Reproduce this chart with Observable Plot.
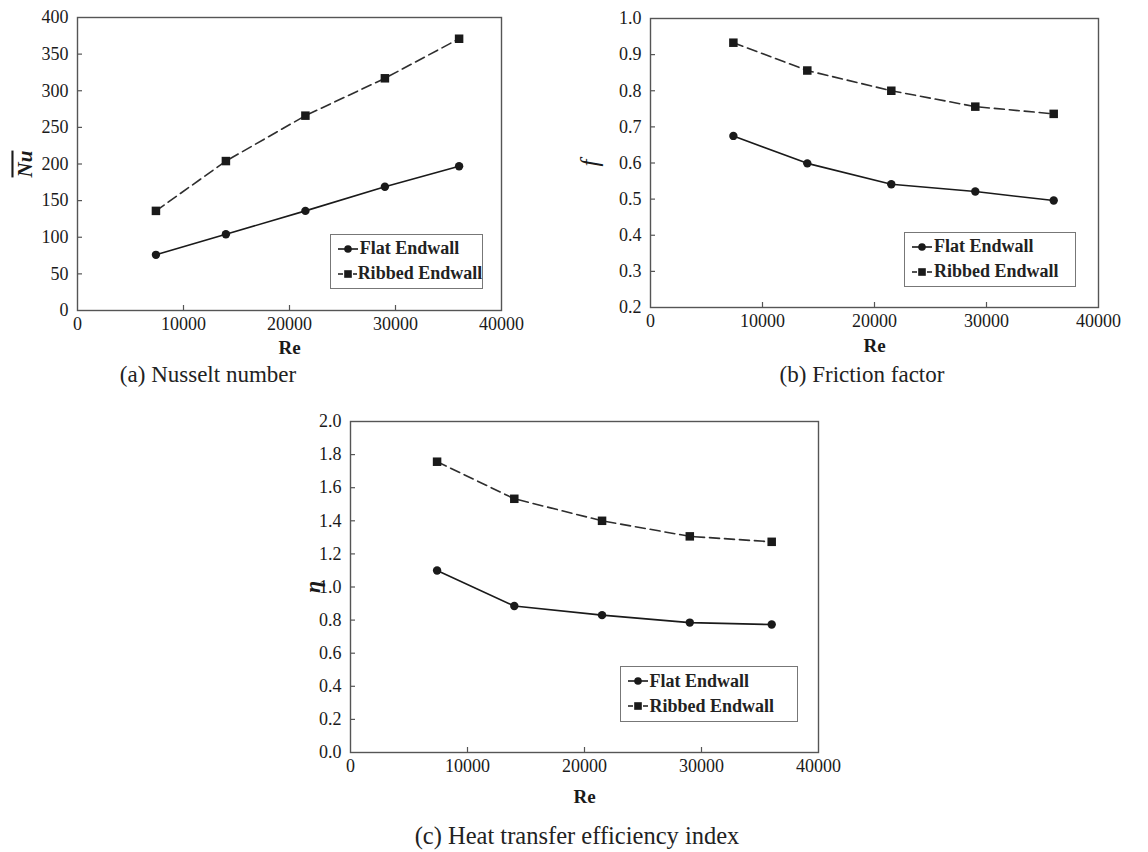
<!DOCTYPE html>
<html>
<head>
<meta charset="utf-8">
<script src="https://cdn.jsdelivr.net/npm/d3@7"></script>
<script src="https://cdn.jsdelivr.net/npm/@observablehq/plot@0.6"></script>
<style>
  body { margin: 0; background: #fff; }
  #fig { position: relative; width: 1148px; height: 852px; font-family: "Liberation Serif", "Times New Roman", serif; color: #222; }
  .panel { position: absolute; }
  .panel text { font-family: "Liberation Serif", "Times New Roman", serif; }
  .caption { position: absolute; font-size: 23.5px; line-height: 1; white-space: nowrap; transform: translate(-50%, -50%); }
  .legend { position: absolute; box-sizing: border-box; border: 1px solid #777; background: #fff;
            font-weight: bold; font-size: 18px; display: flex; flex-direction: column; justify-content: center; padding-left: 6px; }
  .legend .row { display: flex; align-items: center; height: 25px; white-space: nowrap; }
  .legend svg { margin-right: 1px; }
</style>
</head>
<body>
<div id="fig"></div>
<script>
// Reynolds numbers of the five test cases
const re = [7400, 14000, 21500, 29000, 36000];

// (a) area-averaged Nusselt number
const nuFlat = [76, 104, 136, 169, 197];
const nuRibbed = [136, 204, 266, 317, 371];

// (b) friction factor
const fFlat = [0.675, 0.599, 0.541, 0.521, 0.496];
const fRibbed = [0.933, 0.856, 0.800, 0.756, 0.736];

// (c) heat transfer efficiency index
const etaFlat = [1.10, 0.885, 0.830, 0.785, 0.773];
const etaRibbed = [1.757, 1.533, 1.400, 1.306, 1.273];

const seriesNames = ["Flat Endwall", "Ribbed Endwall"];

// axis ticks
const reTicks = [0, 10000, 20000, 30000, 40000];
const nuTicks = [0, 50, 100, 150, 200, 250, 300, 350, 400];
const fTicks = [0.2, 0.3, 0.4, 0.5, 0.6, 0.7, 0.8, 0.9, 1.0];
const etaTicks = [0.0, 0.2, 0.4, 0.6, 0.8, 1.0, 1.2, 1.4, 1.6, 1.8, 2.0];

const fig = document.getElementById("fig");
const serif = "'Liberation Serif', 'Times New Roman', serif";
const ink = "#1a1a1a";
const axisInk = "#555";

function rows(ys) {
  return re.map((x, i) => ({x, y: ys[i]}));
}

function legendSample(kind) {
  const ns = "http://www.w3.org/2000/svg";
  const s = document.createElementNS(ns, "svg");
  s.setAttribute("width", 22); s.setAttribute("height", 12);
  const l = document.createElementNS(ns, "line");
  l.setAttribute("x1", 1); l.setAttribute("x2", 21); l.setAttribute("y1", 6); l.setAttribute("y2", 6);
  l.setAttribute("stroke", ink); l.setAttribute("stroke-width", 1.6);
  if (kind === 1) l.setAttribute("stroke-dasharray", "5,2.5");
  s.appendChild(l);
  if (kind === 0) {
    const c = document.createElementNS(ns, "circle");
    c.setAttribute("cx", 11); c.setAttribute("cy", 6); c.setAttribute("r", 3.8); c.setAttribute("fill", ink);
    s.appendChild(c);
  } else {
    const r = document.createElementNS(ns, "rect");
    r.setAttribute("x", 7.2); r.setAttribute("y", 2.2); r.setAttribute("width", 7.6); r.setAttribute("height", 7.6); r.setAttribute("fill", ink);
    s.appendChild(r);
  }
  return s;
}

function panel(cfg) {
  const {left, top, width, height, mL, mR, mT, mB, yDomain, yTicks, yFormat, xLabelOffset,
         flat, ribbed, yLabel, yLabelStyle, yLabelOffset, caption, capX, capY, capSize, leg} = cfg;
  const plotW = width - mL - mR;
  const plotH = height - mT - mB;
  const chart = Plot.plot({
    width, height,
    marginLeft: mL, marginRight: mR, marginTop: mT, marginBottom: mB,
    style: {fontFamily: serif, fontSize: "18px", color: ink, background: "transparent", overflow: "visible"},
    x: {domain: [0, 40000]},
    y: {domain: yDomain},
    marks: [
      Plot.frame({stroke: axisInk, strokeWidth: 1.4}),
      Plot.tickX(reTicks.slice(1, -1), {x: d => d, stroke: axisInk, strokeWidth: 1.2, insetTop: plotH - 5}),
      Plot.tickY(yTicks.slice(1, -1), {y: d => d, stroke: axisInk, strokeWidth: 1.2, insetRight: plotW - 5}),
      Plot.axisX({ticks: reTicks, tickSize: 0, tickPadding: 7, tickFormat: d => String(d),
                  label: "Re", labelAnchor: "center", labelOffset: xLabelOffset, labelArrow: "none"}),
      Plot.axisY({ticks: yTicks, tickSize: 0, tickPadding: 9, tickFormat: yFormat,
                  label: yLabel, labelAnchor: "center", labelOffset: yLabelOffset, labelArrow: "none"}),
      Plot.line(rows(flat), {x: "x", y: "y", stroke: ink, strokeWidth: 1.6}),
      Plot.line(rows(ribbed), {x: "x", y: "y", stroke: "#2e2e2e", strokeWidth: 1.6, strokeDasharray: "10,5"}),
      Plot.dot(rows(flat), {x: "x", y: "y", r: 4.2, fill: ink, symbol: "circle"}),
      Plot.dot(rows(ribbed), {x: "x", y: "y", r: 4.8, fill: ink, symbol: "square"})
    ]
  });
  chart.classList.add("panel");
  chart.style.left = left + "px";
  chart.style.top = top + "px";
  chart.setAttribute("font-family", serif);
  chart.setAttribute("font-size", "18");
  chart.querySelectorAll("text").forEach(t => t.setAttribute("font-family", serif));
  fig.appendChild(chart);

  // axis titles: bold Re, styled y symbol
  chart.querySelectorAll('[aria-label="x-axis label"] text').forEach(t => {
    t.setAttribute("font-weight", "bold");
    t.style.fontSize = "19px";
  });
  chart.querySelectorAll('[aria-label="y-axis label"] text').forEach(t => {
    for (const [k, v] of Object.entries(yLabelStyle)) t.style[k] = v;
  });

  // caption below the panel
  const cap = document.createElement("div");
  cap.className = "caption";
  cap.textContent = caption;
  cap.style.left = capX + "px";
  cap.style.top = capY + "px";
  cap.style.fontSize = capSize + "px";
  fig.appendChild(cap);

  // legend box inside the frame
  const lg = document.createElement("div");
  lg.className = "legend";
  lg.style.left = (left + mL + plotW * leg[0]) + "px";
  lg.style.top = (top + mT + plotH * leg[1]) + "px";
  lg.style.width = (plotW * (leg[2] - leg[0])) + "px";
  lg.style.height = (plotH * (leg[3] - leg[1])) + "px";
  seriesNames.forEach((name, i) => {
    const r = document.createElement("div");
    r.className = "row";
    r.appendChild(legendSample(i));
    const sp = document.createElement("span");
    sp.textContent = name;
    r.appendChild(sp);
    lg.appendChild(r);
  });
  fig.appendChild(lg);
}

panel({
  left: 0, top: 0, width: 574, height: 380, mL: 77, mR: 73, mT: 17, mB: 70,
  yDomain: [0, 400], yTicks: nuTicks, yFormat: d => String(d), xLabelOffset: 43,
  flat: nuFlat, ribbed: nuRibbed,
  yLabel: "Nu", yLabelOffset: 60,
  yLabelStyle: {fontWeight: "bold", fontStyle: "italic", textDecoration: "overline", fontSize: "21px"},
  caption: "(a) Nusselt number", capX: 208, capY: 374, capSize: 23,
  leg: [0.596, 0.739, 0.958, 0.93]
});

panel({
  left: 574, top: 0, width: 574, height: 380, mL: 76, mR: 50, mT: 18, mB: 73,
  yDomain: [0.2, 1.0], yTicks: fTicks, yFormat: d => d.toFixed(1), xLabelOffset: 44,
  flat: fFlat, ribbed: fRibbed,
  yLabel: "f", yLabelOffset: 70,
  yLabelStyle: {fontStyle: "italic", fontSize: "25px"},
  caption: "(b) Friction factor", capX: 862, capY: 374, capSize: 23,
  leg: [0.567, 0.74, 0.952, 0.93]
});

panel({
  left: 270, top: 400, width: 600, height: 452, mL: 80, mR: 52, mT: 21, mB: 100,
  yDomain: [0, 2.0], yTicks: etaTicks, yFormat: d => d.toFixed(1), xLabelOffset: 50,
  flat: etaFlat, ribbed: etaRibbed,
  yLabel: "η", yLabelOffset: 46,
  yLabelStyle: {fontWeight: "bold", fontStyle: "italic", fontSize: "22px"},
  caption: "(c) Heat transfer efficiency index", capX: 577, capY: 836, capSize: 24.5,
  leg: [0.576, 0.739, 0.957, 0.909]
});
</script>
</body>
</html>
